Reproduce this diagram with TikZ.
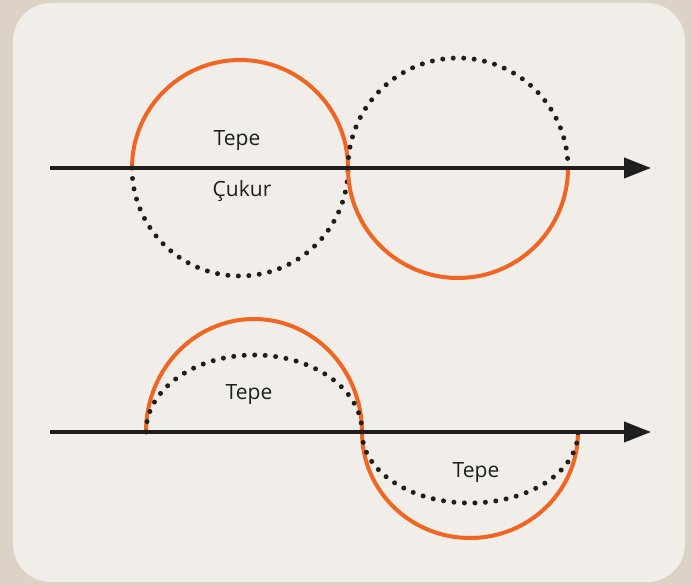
\documentclass[tikz,border=0pt]{standalone}
\usepackage{fontspec}
\setmainfont{Open Sans}
\usetikzlibrary{arrows.meta}
\definecolor{bgc}{HTML}{DCD2C6}
\definecolor{panel}{HTML}{F1EEE9}
\definecolor{wave}{HTML}{F06522}
\definecolor{ink}{HTML}{1E1E1E}
\tikzset{
  axis/.style={draw=ink, line width=4pt, -{Triangle[length=27pt,width=20pt]}},
  solidarc/.style={draw=wave, line width=4pt},
  dotarc/.style={draw=ink, line width=5pt, line cap=round, dash pattern=on 0pt off 10.5pt},
  lbl/.style={font=\fontsize{21}{24}\selectfont, text=ink, anchor=base, inner sep=0pt}
}
\begin{document}
\begin{tikzpicture}[x=1pt,y=1pt]
\useasboundingbox (0,0) rectangle (692,585);
\fill[bgc] (0,0) rectangle (692,585);
\fill[panel, rounded corners=38pt] (13,3) rectangle (685,582);
% top diagram
\coordinate (a1) at (50,417);
\coordinate (a2) at (651,417);
\draw[solidarc] (132,417) arc[start angle=180,end angle=0,radius=108];
\draw[dotarc] (132,417) arc[start angle=180,end angle=360,radius=108];
\draw[solidarc] (348,417) arc[start angle=180,end angle=360,radius=110];
\draw[dotarc] (348,417) arc[start angle=180,end angle=0,radius=110];
\draw[axis] (a1) -- (a2);
\node[lbl] (t1) at (237,439) {Tepe};
\node[lbl] (c1) at (242,388) {Çukur};
% bottom diagram
\coordinate (b1) at (50,153);
\coordinate (b2) at (651,153);
\draw[solidarc] (146,153) arc[start angle=180,end angle=0,x radius=108,y radius=113];
\draw[dotarc] (146,153) arc[start angle=180,end angle=0,x radius=108,y radius=77];
\draw[solidarc] (362,153) arc[start angle=180,end angle=360,x radius=108,y radius=106];
\draw[dotarc] (362,153) arc[start angle=180,end angle=360,x radius=108,y radius=71];
\draw[axis] (b1) -- (b2);
\node[lbl] (t2) at (249,185) {Tepe};
\node[lbl] (t3) at (476,107) {Tepe};
\end{tikzpicture}
\end{document}
